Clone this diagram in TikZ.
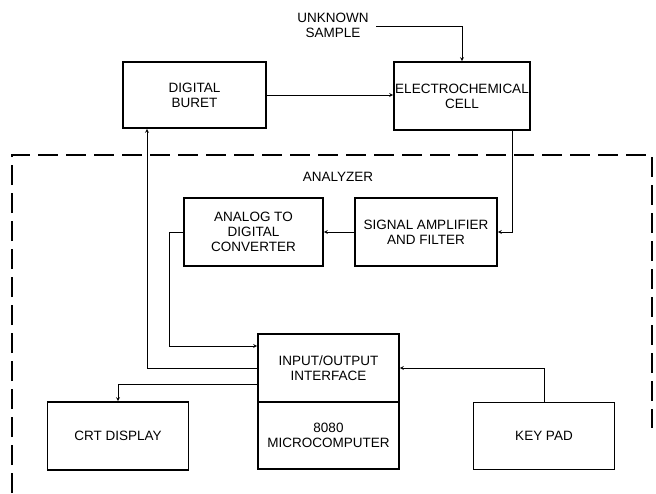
\documentclass[tikz,border=0pt]{standalone}
\usepackage{fontspec}
\setmainfont{Liberation Sans}
\usetikzlibrary{positioning}

\begin{document}
\begin{tikzpicture}[
    x=1pt,y=-1pt,
    block/.style={rectangle,draw=black,line width=1.6pt,align=center,
      minimum width=141pt,minimum height=67pt,inner sep=1pt,
      font=\fontsize{13.5}{15}\selectfont},
    label/.style={align=center,font=\fontsize{13.5}{15}\selectfont},
    link/.style={line width=0.8pt},
    frame/.style={line width=1.2pt,dash pattern=on 20pt off 8pt},
    >=stealth
  ]
  \useasboundingbox (0,0) rectangle (656,493);

  % Outside the analyzer
  \node[block,minimum width=143pt,minimum height=66pt] (buret) at (194.5,95) {DIGITAL\\BURET};
  \node[block,minimum width=136pt,minimum height=68pt] (cell) at (462,96) {ELECTROCHEMICAL\\CELL};
  \node[label] (sample) at (333,25) {UNKNOWN\\SAMPLE};
  \coordinate (sample_in) at (376,26);

  % Analyzer
  \draw[frame] (12,493) -- (12,155) -- (652,155) -- (652,428);
  \node[label] (analyzer) at (338,177) {ANALYZER};
  \node[block,minimum width=139pt,minimum height=68pt] (adc) at (253.5,232) {ANALOG TO\\DIGITAL\\CONVERTER};
  \node[block,minimum width=142pt,minimum height=68pt] (amp) at (426,232) {SIGNAL AMPLIFIER\\AND FILTER};
  \node[block,minimum height=68pt] (io) at (328.5,368) {INPUT/OUTPUT\\INTERFACE};
  \node[block,below=-1.6pt of io] (micro) {8080\\MICROCOMPUTER};
  \node[block,minimum height=68pt] (crt) at (118,436) {CRT DISPLAY};
  \node[block] (keypad) at (544,436) {KEY PAD};

  % Signal paths
  \draw[link,->] (sample_in) -| (cell.north);
  \draw[link,->] (buret.east) -- (buret.east -| cell.west);
  \draw[link,->] ([xshift=50pt]cell.south) |- (amp.east);
  \draw[link,->] (amp.west) -- (adc.east);
  \draw[link,->] (adc.west) -- ++(-14,0) |- ([yshift=22pt]io.west);
  \draw[link,->] (io.west) -| ([xshift=-47.5pt]buret.south);
  \draw[link,->] ([yshift=-16pt]io.west) -| (crt.north);
  \draw[link,->] (keypad.north) |- (io.east);
\end{tikzpicture}
\end{document}
